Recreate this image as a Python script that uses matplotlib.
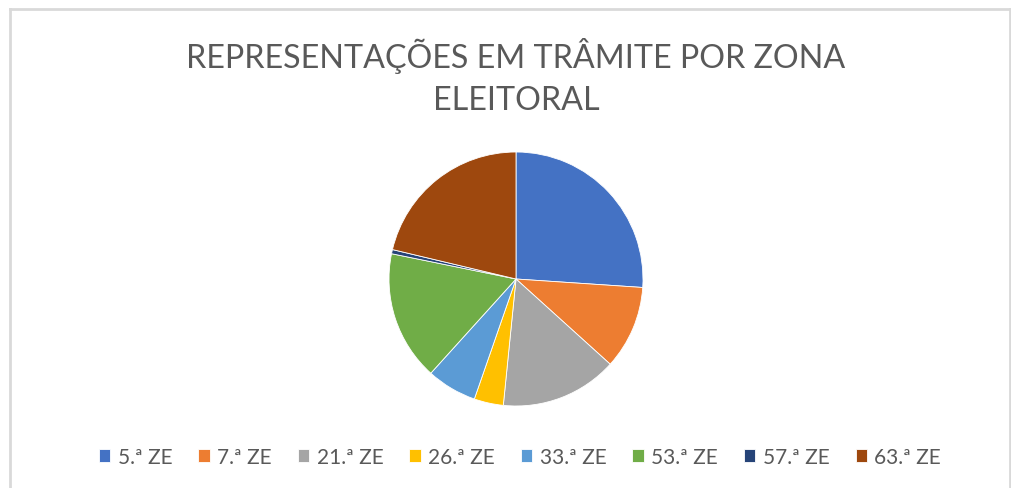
import matplotlib.pyplot as plt
from matplotlib.lines import Line2D

# Dados
zonas = ['5.ª ZE', '7.ª ZE', '21.ª ZE', '26.ª ZE', '33.ª ZE', '53.ª ZE', '57.ª ZE', '63.ª ZE']
representacoes = [49, 20, 28, 7, 12, 31, 1, 40]
cores = ['#4472C4', '#ED7D31', '#A5A5A5', '#FFC000', '#5B9BD5', '#70AD47', '#264478', '#9E480E']

plt.rcParams['font.family'] = ['Lato', 'DejaVu Sans']

W, H = 1011, 489
fig = plt.figure(figsize=(W / 100, H / 100), dpi=100)
fig.patch.set_facecolor('white')

# borda clara do gráfico
borda = dict(color='#d9d9d9', lw=2, transform=fig.transFigure)
fig.add_artist(Line2D([10 / W, 10 / W], [0, 1 - 10 / H], **borda))
fig.add_artist(Line2D([10 / W, 1 - 1 / W], [1 - 10 / H, 1 - 10 / H], **borda))
fig.add_artist(Line2D([1 - 1 / W, 1 - 1 / W], [0, 1 - 10 / H], **borda))

# título
fig.text(516 / W, 1 - 56 / H, 'REPRESENTAÇÕES EM TRÂMITE POR ZONA', ha='center', va='center',
         fontsize=23.2, color='#595959')
fig.text(516 / W, 1 - 101 / H, 'ELEITORAL', ha='center', va='center',
         fontsize=23.2, color='#595959')

# pizza
cx, cy, r = 516, 280, 127
ax = fig.add_axes([(cx - r) / W, (H - cy - r) / H, 2 * r / W, 2 * r / H])
wedges, _ = ax.pie(representacoes, colors=cores, startangle=90, counterclock=False,
                   radius=1, wedgeprops=dict(edgecolor='white', linewidth=0.6))
ax.set_xlim(-1, 1)
ax.set_ylim(-1, 1)
ax.set_aspect('equal')
ax.axis('off')

# legenda
fig.legend(wedges, zonas, loc='center', bbox_to_anchor=(520 / W, 1 - 458 / H), ncol=8,
           frameon=False, fontsize=15, labelcolor='#595959', handlelength=0.55,
           handleheight=0.55, handletextpad=0.35, columnspacing=1.25)

fig.savefig('out.png', dpi=100)
